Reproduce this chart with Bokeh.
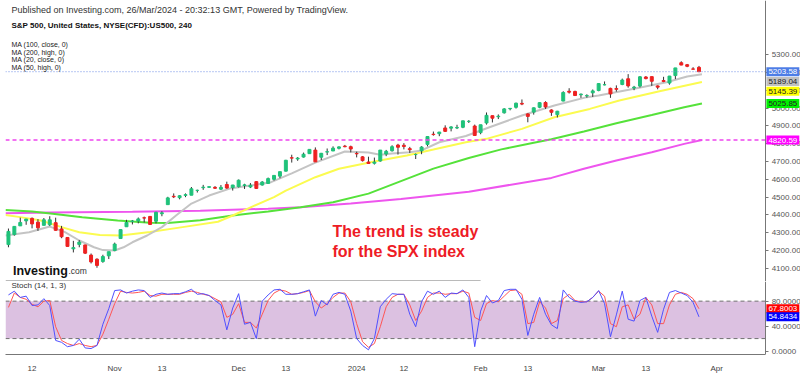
from bokeh.plotting import figure
from bokeh.layouts import column
from bokeh.models import (ColumnDataSource, Label, BoxAnnotation, FixedTicker, LinearAxis,
                          NumeralTickFormatter, Range1d)
from bokeh.embed import file_html
from bokeh.resources import INLINE

# ---------------- data (x = trading-day index, 0 = 6 Oct 2023 ... 117 = 26 Mar 2024)
opens = [4234, 4290, 4339, 4367, 4381, 4360, 4342, 4345, 4357, 4322,
         4274, 4210, 4235, 4232, 4175, 4152, 4139, 4171, 4201, 4268,
         4334, 4364, 4366, 4384, 4392, 4365, 4407, 4458, 4505, 4497,
         4510, 4511, 4538, 4553, 4555, 4555, 4545, 4571, 4554, 4559,
         4565, 4557, 4587, 4568, 4577, 4600, 4618, 4646, 4721, 4714,
         4725, 4744, 4764, 4724, 4753, 4759, 4774, 4786, 4783, 4745,
         4726, 4697, 4690, 4703, 4742, 4760, 4792, 4791, 4772, 4739,
         4760, 4796, 4853, 4856, 4888, 4887, 4888, 4892, 4925, 4899,
         4862, 4916, 4957, 4951, 4973, 4996, 5004, 5026, 4967, 4977,
         5004, 5031, 4989, 4963, 5039, 5094, 5093, 5074, 5068, 5085,
         5098, 5130, 5110, 5109, 5132, 5164, 5112, 5123, 5174, 5176,
         5124, 5154, 5140, 5182, 5254, 5243, 5219, 5228]
highs = [4324, 4336, 4385, 4378, 4386, 4377, 4383, 4393, 4385, 4339,
         4276, 4255, 4259, 4233, 4184, 4157, 4177, 4194, 4245, 4319,
         4373, 4372, 4386, 4391, 4394, 4418, 4421, 4502, 4521, 4511,
         4521, 4557, 4542, 4569, 4560, 4562, 4568, 4587, 4569, 4599,
         4575, 4579, 4590, 4590, 4610, 4623, 4643, 4709, 4738, 4725,
         4750, 4769, 4779, 4748, 4773, 4785, 4785, 4793, 4789, 4755,
         4730, 4727, 4722, 4764, 4765, 4791, 4799, 4803, 4782, 4745,
         4786, 4843, 4868, 4866, 4903, 4898, 4906, 4929, 4932, 4907,
         4906, 4975, 4957, 4964, 4999, 5000, 5030, 5048, 4971, 5003,
         5032, 5038, 4993, 4984, 5094, 5111, 5097, 5081, 5077, 5104,
         5140, 5149, 5114, 5127, 5165, 5190, 5124, 5179, 5179, 5176,
         5127, 5175, 5180, 5225, 5262, 5247, 5229, 5236]
lows = [4219, 4284, 4339, 4345, 4325, 4311, 4342, 4338, 4312, 4270,
        4223, 4190, 4219, 4181, 4128, 4104, 4132, 4153, 4197, 4268,
        4334, 4347, 4353, 4358, 4344, 4353, 4393, 4458, 4495, 4488,
        4500, 4511, 4526, 4541, 4552, 4546, 4540, 4547, 4537, 4554,
        4546, 4551, 4546, 4565, 4574, 4593, 4606, 4644, 4694, 4704,
        4722, 4743, 4698, 4708, 4736, 4759, 4768, 4780, 4751, 4723,
        4700, 4687, 4683, 4699, 4730, 4756, 4739, 4768, 4748, 4714,
        4741, 4785, 4845, 4842, 4866, 4869, 4882, 4887, 4916, 4845,
        4853, 4907, 4919, 4938, 4969, 4987, 4997, 5016, 4920, 4963,
        4999, 4995, 4956, 4947, 5038, 5081, 5068, 5057, 5058, 5062,
        5094, 5127, 5057, 5092, 5128, 5114, 5100, 5115, 5161, 5124,
        5105, 5145, 5131, 5162, 5240, 5229, 5216, 5203]
closes = [4308, 4336, 4358, 4377, 4350, 4328, 4373, 4373, 4314, 4278,
          4224, 4217, 4248, 4186, 4137, 4117, 4167, 4194, 4237, 4318,
          4358, 4366, 4378, 4383, 4347, 4415, 4412, 4496, 4502, 4508,
          4514, 4547, 4538, 4556, 4559, 4550, 4555, 4551, 4568, 4595,
          4569, 4567, 4549, 4585, 4604, 4622, 4643, 4707, 4719, 4719,
          4741, 4768, 4698, 4746, 4755, 4775, 4782, 4783, 4770, 4743,
          4705, 4689, 4697, 4764, 4757, 4783, 4780, 4784, 4766, 4739,
          4781, 4840, 4851, 4865, 4869, 4894, 4891, 4928, 4925, 4846,
          4906, 4959, 4943, 4954, 4995, 4998, 5027, 5022, 4953, 5001,
          5030, 5006, 4976, 4982, 5087, 5089, 5070, 5078, 5070, 5096,
          5137, 5131, 5079, 5105, 5157, 5124, 5117, 5175, 5165, 5150,
          5117, 5149, 5179, 5225, 5241, 5234, 5218, 5203.58]

# moving averages (index, value)
ma20_idx = [-0.5, 3.5, 7, 9.5, 12, 14.5, 16, 18, 19.5, 21, 23.5, 26, 28.5, 31, 34, 37.5,
            41, 44.5, 48, 52, 57, 61, 63, 65, 68, 70, 73, 77.5, 81.5, 87, 92.5, 98,
            100, 106, 111.5, 115, 117.5]
ma20_val = [4285, 4303, 4335, 4305, 4257, 4219, 4203, 4201, 4219, 4247, 4285, 4332, 4400,
            4464, 4509, 4548, 4565, 4584, 4633, 4694, 4756, 4750, 4738, 4745, 4752, 4762,
            4808, 4843, 4892, 4958, 5014, 5061, 5070, 5108, 5145, 5177, 5189.04]
ma50_idx = [-0.5, 2, 5.5, 9, 12, 15.5, 19, 24, 29.5, 35.5, 38, 41.5, 45, 47, 52, 56, 62,
            67.5, 72, 77.5, 81, 87, 92.5, 98.5, 103.5, 110.5, 117.5]
ma50_val = [4400, 4388, 4369, 4332, 4303, 4288, 4285, 4305, 4332, 4362, 4397, 4450, 4500,
            4537, 4612, 4659, 4700, 4734, 4767, 4808, 4827, 4883, 4948, 4995, 5042, 5095,
            5145.39]
ma100_idx = [-0.5, 4, 7.5, 12.5, 18.5, 24, 27, 32.5, 38, 44, 49.5, 55, 61, 66.5, 72, 78,
             83.5, 89, 92, 97.5, 103, 109, 114.5, 117.5]
ma100_val = [4428, 4420, 4407, 4388, 4369, 4356, 4355, 4370, 4397, 4420, 4444, 4472, 4520,
             4590, 4660, 4720, 4768, 4805, 4825, 4868, 4915, 4961, 5004, 5025.85]
ma200_idx = [-0.5, 7, 21, 32.5, 44, 49.5, 58, 66.5, 78, 92, 97.5, 103, 109, 114.5, 117.5]
ma200_val = [4410, 4414, 4418, 4424, 4435, 4444, 4465, 4490, 4530, 4608, 4659, 4706, 4752,
             4799, 4820.59]

stoch_k = [90, 96, 86, 88, 73, 74, 84, 73, 17, 14,
           7, 9, 19, 5, 4, 9, 43, 68, 97, 98,
           93, 96, 98, 97, 86, 91, 93, 91, 92, 92,
           95, 99, 91, 92, 89, 81, 74, 34, 69, 92,
           43, 46, 20, 80, 90, 98, 99, 91, 91, 92,
           95, 98, 56, 81, 74, 91, 94, 91, 64, 20,
           9, 2, 20, 71, 83, 92, 91, 91, 59, 39,
           79, 96, 91, 96, 86, 93, 92, 98, 86, 7,
           64, 89, 77, 81, 97, 99, 99, 83, 25, 59,
           86, 59, 42, 36, 98, 86, 80, 78, 79, 86,
           97, 76, 23, 58, 96, 51, 48, 81, 86, 56,
           30, 67, 94, 97, 93, 89, 78, 54.8434]
stoch_d = [70, 93, 86, 83, 75, 71, 80, 81, 39, 17,
           12, 9, 12, 9, 7, 9, 27, 51, 76, 96,
           94, 93, 94, 96, 89, 88, 91, 91, 91, 91,
           94, 96, 94, 91, 89, 84, 79, 54, 59, 76,
           46, 46, 37, 59, 81, 93, 98, 96, 91, 92,
           94, 97, 79, 69, 76, 86, 93, 93, 79, 44,
           15, 6, 12, 39, 71, 86, 91, 91, 74, 49,
           64, 86, 93, 93, 91, 92, 92, 96, 93, 54,
           49, 76, 81, 79, 88, 97, 98, 91, 44, 46,
           79, 69, 44, 49, 84, 91, 81, 79, 79, 86,
           96, 88, 44, 39, 71, 74, 51, 59, 86, 74,
           44, 44, 74, 91, 94, 91, 84, 67.8003]

tick_idx = [4, 18, 26, 39, 47, 59, 67, 80, 88, 100, 108, 120]
tick_lbl = ["12", "Nov", "13", "Dec", "13", "2024", "12", "Feb", "13", "Mar", "13", "Apr"]
price_ticks = [4100, 4200, 4300, 4400, 4500, 4600, 4700, 4800, 4900, 5000, 5100, 5200, 5300]
stoch_ticks = [0, 40, 80]
stoch_levels = [20, 80]
last_price = 5203.58

# ---------------- layout constants
FONT = "Liberation Sans"
W = 800
H1, H2 = 281, 94
LB = 5
X0, X1 = -0.5, 134.2   # x range of the frame (5 .. 800 px)
X_AX = 128.3           # x position of the price/stoch axis (about 765 px)
UP, DOWN = "#1fc27a", "#ee2020"

x_range = Range1d(X0, X1)

def style_y(ax):
    ax.major_label_text_font_size = "8px"
    ax.major_label_text_font = FONT
    ax.major_label_text_color = "#555555"
    ax.axis_line_color = "#777777"
    ax.major_tick_line_color = "#777777"
    ax.major_tick_in = 0
    ax.major_tick_out = 3
    ax.minor_tick_line_color = None
    ax.major_label_standoff = 3

def scr_label(p, text, x, y, size, color="#333333", style="normal", baseline="middle"):
    p.add_layout(Label(x=x, y=y, x_units="screen", y_units="screen", text=text,
                       text_font=FONT, text_font_size=size, text_color=color,
                       text_font_style=style, text_baseline=baseline))

def badge(p, v, txt, bg, fg):
    p.add_layout(Label(x=X_AX + 0.12, y=v, text=txt, text_font=FONT, text_font_size="8px",
                       text_color=fg, background_fill_color=bg, text_baseline="middle",
                       padding=2))

p1 = figure(width=W, height=H1, x_range=x_range, y_range=Range1d(4027, 5603),
            output_backend="svg", toolbar_location=None, x_axis_location=None,
            y_axis_location=None, min_border_left=LB, min_border_right=0,
            min_border_top=0, min_border_bottom=0, outline_line_color=None,
            background_fill_color="white", border_fill_color="white")
p1.grid.visible = False

yax1 = LinearAxis(fixed_location=X_AX, ticker=FixedTicker(ticks=price_ticks),
                  formatter=NumeralTickFormatter(format="0.00"))
style_y(yax1)
p1.add_layout(yax1, "right")

# moving averages
p1.line(ma200_idx, ma200_val, line_color="#ee55ee", line_width=2)
p1.line(ma100_idx, ma100_val, line_color="#55e23a", line_width=2)
p1.line(ma50_idx, ma50_val, line_color="#fbfb50", line_width=2)
p1.line(ma20_idx, ma20_val, line_color="#c4c4c4", line_width=2)

# candles
xs = list(range(len(closes)))
src = ColumnDataSource(dict(
    x=xs, h=highs, l=lows,
    top=[max(o, c) for o, c in zip(opens, closes)],
    bottom=[min(o, c) for o, c in zip(opens, closes)],
    color=[UP if c >= o else DOWN for o, c in zip(opens, closes)]))
p1.segment("x", "h", "x", "l", source=src, line_color="#333333", line_width=1)
p1.vbar(x="x", width=0.5, top="top", bottom="bottom", source=src,
        fill_color="color", line_color="color")

# last-price and MA200 reference lines (frame left edge to the axis)
p1.segment(x0=[X0], y0=[last_price], x1=[X_AX], y1=[last_price], line_color="#6f8fe6",
           line_dash="1 2", line_width=1)
p1.segment(x0=[X0], y0=[ma200_val[-1]], x1=[X_AX], y1=[ma200_val[-1]], line_color="#ee44ee",
           line_dash="4 3", line_width=1.5)
# separator between panes
p1.segment(x0=[X0], y0=[4029], x1=[80], y1=[4029], line_color="#777777", line_width=1.5)

# positions are (reference x - LB, frame bottom - reference y)
FB = 281
scr_label(p1, "Published on Investing.com, 26/Mar/2024 - 20:32:13 GMT, Powered by TradingView.",
          6, FB - 9, "9px", "#333333")
scr_label(p1, "S&P 500, United States, NYSE(CFD):US500, 240", 6, FB - 25, "8px", "#111111", "bold")
for i, t in enumerate(["MA (100, close, 0)", "MA (200, high, 0)", "MA (20, close, 0)", "MA (50, high, 0)"]):
    scr_label(p1, t, 6, FB - (44.3 + 7.5 * i), "7px", "#222222")
scr_label(p1, "Investing", 7.5, FB - 270, "12.5px", "#111111", "bold", "alphabetic")
scr_label(p1, ".com", 63, FB - 270, "8.5px", "#333333", "normal", "alphabetic")
scr_label(p1, "The trend is steady", 327, FB - 231, "16px", "#ee1c25", "bold", "alphabetic")
scr_label(p1, "for the SPX index", 327, FB - 251, "16px", "#ee1c25", "bold", "alphabetic")

# right-hand value badges (stacked so they do not overlap)
badges = [(last_price, "#4d7de6", "white"), (ma20_val[-1], "#c0c0c0", "#222222"),
          (ma50_val[-1], "#ffff00", "#222222"), (ma100_val[-1], "#00f000", "#222222"),
          (ma200_val[-1], "#ff00ff", "white")]
prev = None
for v, bg, fg in badges:
    pos = v if prev is None else min(v, prev - 55)
    prev = pos
    badge(p1, pos, f"{v:.2f}", bg, fg)

# ---------------- stochastic pane
p2 = figure(width=W, height=H2, x_range=x_range, y_range=Range1d(-5.5, 111.5),
            output_backend="svg", toolbar_location=None, y_axis_location=None,
            min_border_left=LB, min_border_right=0, min_border_top=0, min_border_bottom=15,
            outline_line_color=None, background_fill_color="white", border_fill_color="white")
p2.grid.visible = False
p2.add_layout(BoxAnnotation(left=X0, right=X_AX, bottom=stoch_levels[0], top=stoch_levels[1],
                            fill_color="#dcc1e1", fill_alpha=1, line_color=None, level="underlay"))
for lv in stoch_levels:
    p2.segment(x0=[X0], y0=[lv], x1=[X_AX], y1=[lv], line_color="#707070",
               line_dash="4 3", line_width=1)
p2.line(xs, stoch_d, line_color="#ff5555", line_width=1)
p2.line(xs, stoch_k, line_color="#5050ff", line_width=1)

yax2 = LinearAxis(fixed_location=X_AX, ticker=FixedTicker(ticks=stoch_ticks),
                  formatter=NumeralTickFormatter(format="0.0000"))
style_y(yax2)
p2.add_layout(yax2, "right")

xa = p2.xaxis[0]
xa.ticker = FixedTicker(ticks=tick_idx)
xa.major_label_overrides = {t: l for t, l in zip(tick_idx, tick_lbl)}
xa.major_label_text_font_size = "8px"
xa.major_label_text_font = FONT
xa.major_label_text_color = "#444444"
xa.axis_line_color = "#777777"
xa.major_tick_line_color = None
xa.minor_tick_line_color = None
xa.major_label_standoff = 3
xa.bounds = (X0, X_AX)

scr_label(p2, "Stoch (14, 1, 3)", 6, 360 - 290.5, "8px", "#333333")
badge(p2, stoch_d[-1], f"{stoch_d[-1]:.4f}", "#ff0000", "white")
badge(p2, stoch_k[-1], f"{stoch_k[-1]:.4f}", "#0000ff", "white")

layout = column(p1, p2, spacing=0)
open("out.html", "w").write(file_html(layout, INLINE))
